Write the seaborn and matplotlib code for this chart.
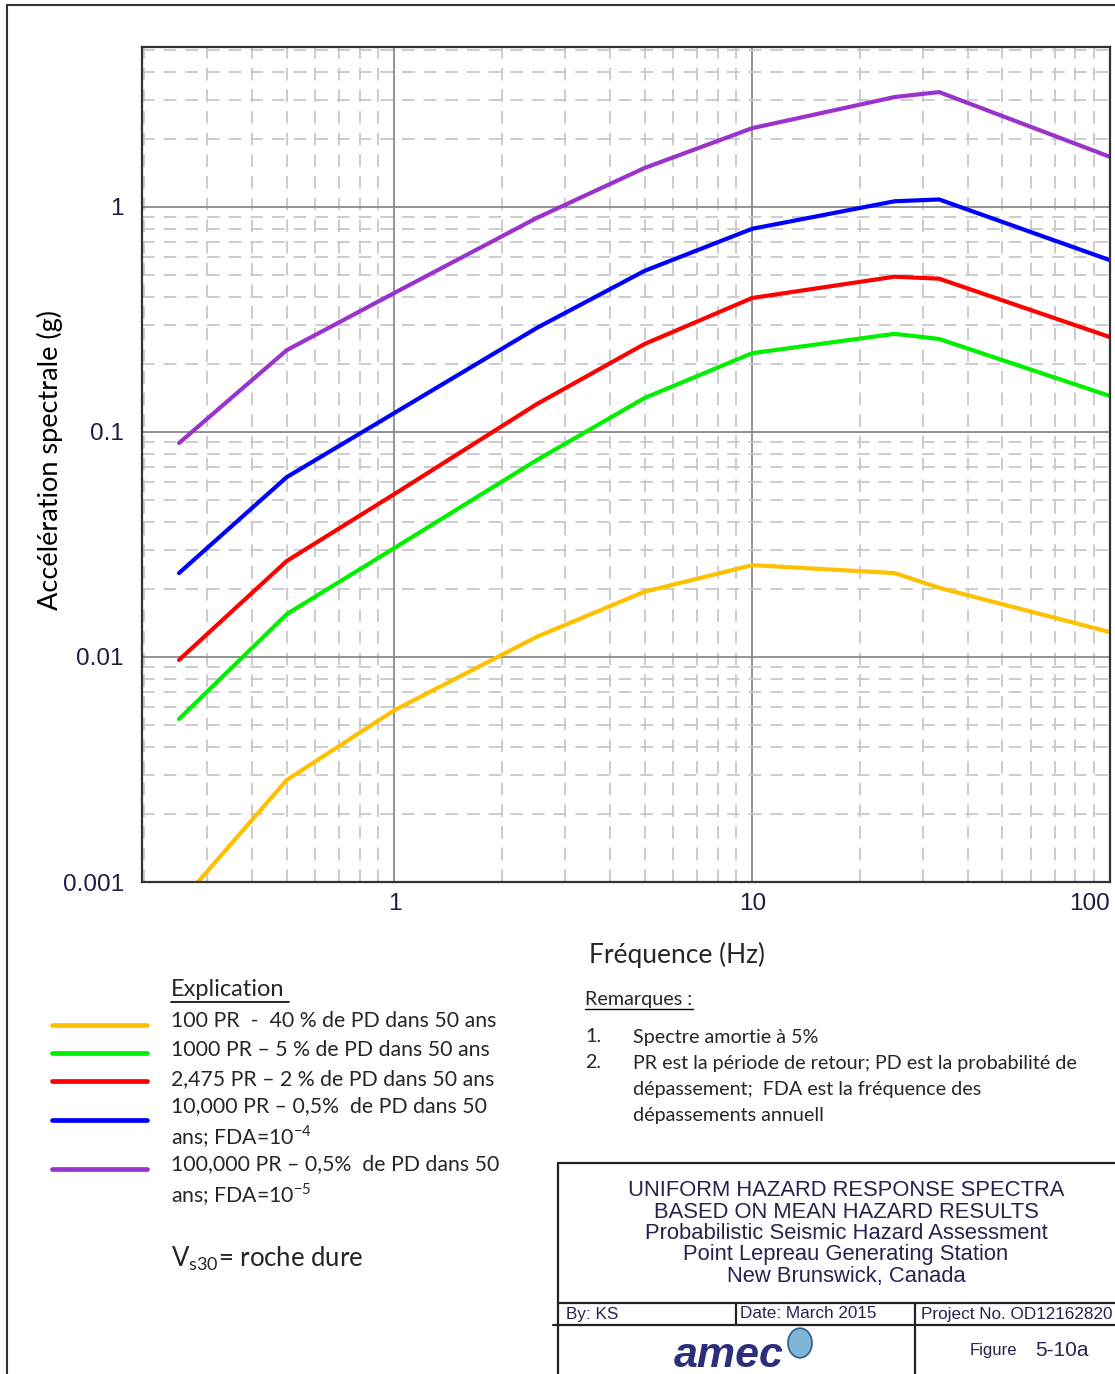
import numpy as np
import pandas as pd
import seaborn as sns
import matplotlib.pyplot as plt
from matplotlib.lines import Line2D
from matplotlib.patches import Circle
from matplotlib.ticker import LogLocator, FixedLocator, NullFormatter

sns.set_theme(style="white")
plt.rcParams["font.family"] = ["Liberation Sans", "DejaVu Sans"]
plt.rcParams["mathtext.fontset"] = "custom"
plt.rcParams["mathtext.rm"] = "Lato"

# spectral frequencies (Hz) and accelerations (g)
freq = [0.25, 0.5, 1, 2.5, 5, 10, 25, 33.3, 100]
pr_100 = [0.0008, 0.00284, 0.0058, 0.0123, 0.0195, 0.0256, 0.0236, 0.0203, 0.0129]
pr_1000 = [0.0053, 0.0155, 0.0305, 0.075, 0.1416, 0.224, 0.273, 0.259, 0.1445]
pr_2475 = [0.0097, 0.0267, 0.053, 0.133, 0.246, 0.394, 0.49, 0.48, 0.264]
pr_10000 = [0.0236, 0.063, 0.1215, 0.29, 0.52, 0.80, 1.06, 1.08, 0.58]
pr_100000 = [0.0893, 0.231, 0.415, 0.894, 1.49, 2.24, 3.08, 3.24, 1.67]

series = ["100", "1000", "2475", "10000", "100000"]
values = [pr_100, pr_1000, pr_2475, pr_10000, pr_100000]
colors = {"100": "#FFC000", "1000": "#00F000", "2475": "#FF0000",
          "10000": "#0000FF", "100000": "#9933CC"}

legend_labels = [
    "100 PR  -  40 % de PD dans 50 ans",
    "1000 PR – 5 % de PD dans 50 ans",
    "2,475 PR – 2 % de PD dans 50 ans",
    "10,000 PR – 0,5%  de PD dans 50\nans; FDA=10$^{\\mathregular{-4}}$",
    "100,000 PR – 0,5%  de PD dans 50\nans; FDA=10$^{\\mathregular{-5}}$",
]

df = pd.DataFrame({
    "freq": np.tile(freq, len(series)),
    "acc": np.concatenate(values),
    "series": np.repeat(series, len(freq)),
})

W, H = 1115, 1374
fig = plt.figure(figsize=(W / 100, H / 100), dpi=100)


def fx(x):
    return x / W


def fy(y):
    return 1 - y / H


ax = fig.add_axes([fx(142), fy(882), fx(1110 - 142), (882 - 47) / H])
sns.lineplot(data=df, x="freq", y="acc", hue="series", palette=colors,
             linewidth=3.0, legend=False, ax=ax, solid_capstyle="round")
ax.set_xscale("log")
ax.set_yscale("log")
ax.set_xlim(0.197, 100)
ax.set_ylim(0.001, 5.14)

ax.xaxis.set_major_locator(FixedLocator([1, 10, 100]))
ax.yaxis.set_major_locator(FixedLocator([0.001, 0.01, 0.1, 1]))
ax.set_xticklabels(["1", "10", "100"])
ax.set_yticklabels(["0.001", "0.01", "0.1", "1"])
ax.xaxis.set_minor_locator(LogLocator(base=10, subs=np.arange(2, 10), numticks=20))
ax.yaxis.set_minor_locator(LogLocator(base=10, subs=np.arange(2, 10), numticks=20))
ax.xaxis.set_minor_formatter(NullFormatter())
ax.yaxis.set_minor_formatter(NullFormatter())
ax.tick_params(which="both", length=0)
ax.tick_params(axis="x", pad=8, labelsize=17.5, labelcolor="#1c1c40")
ax.tick_params(axis="y", pad=13, labelsize=17.5, labelcolor="#1c1c40")
ax.get_xticklabels()[-1].set_horizontalalignment("right")

ax.grid(which="major", color="#8a8a8a", linewidth=1.3, linestyle="-")
ax.grid(which="minor", color="#c8c8c8", linewidth=1.3, linestyle=(0, (7, 5)))
ax.set_axisbelow(True)
for s in ax.spines.values():
    s.set_visible(True)
    s.set_color("#333333")
    s.set_linewidth(1.6)

calibri = ["Lato", "DejaVu Sans"]
ax.set_xlabel("")
ax.set_ylabel("Accélération spectrale (g)", family=calibri, fontsize=19.5, color="black")
ax.yaxis.set_label_coords(-0.082, 0.505)

# outer frame
fig.add_artist(Line2D([fx(7), 1], [fy(5), fy(5)], color="#333333", lw=1.5))
fig.add_artist(Line2D([fx(7), fx(7)], [fy(5), 0], color="#333333", lw=1.5))

fig.text(fx(677), fy(955), "Fréquence (Hz)", family=calibri, fontsize=19,
         ha="center", va="center")

# legend block
fig.text(fx(171), fy(990), "Explication", family=calibri, fontsize=17,
         ha="left", va="center")
fig.add_artist(Line2D([fx(171), fx(289)], [fy(1002), fy(1002)], color="black", lw=1.2))
line_y = [1025, 1053, 1081, 1120, 1169]
text_y = [1021, 1050, 1079, 1123, 1181]
for s, lab, ly, ty in zip(series, legend_labels, line_y, text_y):
    fig.add_artist(Line2D([fx(52), fx(147)], [fy(ly), fy(ly)], color=colors[s],
                          lw=3.4, solid_capstyle="round"))
    fig.text(fx(171), fy(ty), lab, family=calibri, fontsize=15.3, ha="left",
             va="center", linespacing=1.3)
fig.text(fx(171), fy(1259), "V$_{\\mathregular{s30}}$= roche dure", family=calibri,
         fontsize=18.5, ha="left", va="center")

# remarks
rs = 14.2
fig.text(fx(585), fy(999), "Remarques :", family=calibri, fontsize=rs,
         ha="left", va="center")
fig.add_artist(Line2D([fx(585), fx(693)], [fy(1009), fy(1009)], color="black", lw=1.0))
fig.text(fx(585), fy(1037), "1.", family=calibri, fontsize=rs, va="center")
fig.text(fx(633), fy(1037), "Spectre amortie à 5%", family=calibri, fontsize=rs, va="center")
fig.text(fx(585), fy(1063), "2.", family=calibri, fontsize=rs, va="center")
fig.text(fx(633), fy(1063), "PR est la période de retour; PD est la probabilité de",
         family=calibri, fontsize=rs, va="center")
fig.text(fx(633), fy(1089), "dépassement;  FDA est la fréquence des",
         family=calibri, fontsize=rs, va="center")
fig.text(fx(633), fy(1115), "dépassements annuell", family=calibri, fontsize=rs, va="center")

# title block
blk = "#222222"
for (x0, y0, x1, y1) in [(558, 1163, 1115, 1163), (558, 1163, 558, 1374),
                         (558, 1303, 1115, 1303), (553, 1325, 1115, 1325),
                         (736, 1303, 736, 1325), (915, 1303, 915, 1374)]:
    fig.add_artist(Line2D([fx(x0), fx(x1)], [fy(y0), fy(y1)], color=blk, lw=1.6))

navy = "#24244e"
title_lines = ["UNIFORM HAZARD RESPONSE SPECTRA", "BASED ON MEAN HAZARD RESULTS",
               "Probabilistic Seismic Hazard Assessment", "Point Lepreau Generating Station",
               "New Brunswick, Canada"]
for i, t in enumerate(title_lines):
    fig.text(fx(846), fy(1191 + i * 21.3), t, fontsize=15.8, color=navy,
             ha="center", va="center")
fig.text(fx(566), fy(1314), "By: KS", fontsize=12.3, color=navy, va="center")
fig.text(fx(740), fy(1314), "Date: March 2015", fontsize=12.3, color=navy, va="center")
fig.text(fx(921), fy(1314), "Project No. OD12162820", fontsize=12.3, color=navy, va="center")
fig.text(fx(970), fy(1351), "Figure", fontsize=12, color=navy, va="center")
fig.text(fx(1035), fy(1350), "5-10a", fontsize=15, color=navy, va="center")
fig.text(fx(674), fy(1356), "amec", fontsize=31, color="#2b2f7a", fontweight="bold",
         style="italic", va="center")
fig.add_artist(Circle((fx(800), fy(1343)), 12 / W, transform=fig.transFigure,
                      facecolor="#7fb6d6", edgecolor="#2b5f8a", lw=1.2))

fig.savefig("out.png", dpi=100)
